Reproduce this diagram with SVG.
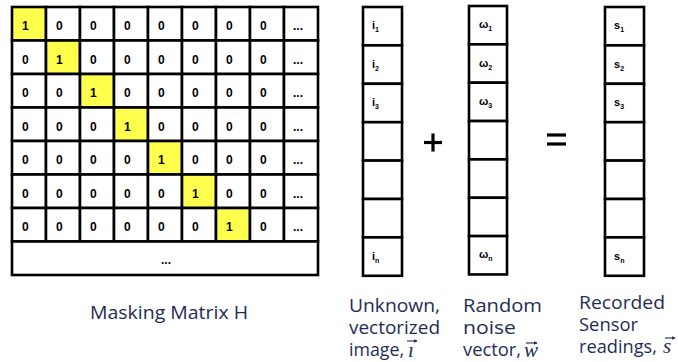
<svg xmlns="http://www.w3.org/2000/svg" width="678" height="362" viewBox="0 0 678 362">
<style>
.c{fill:#fff;stroke:#000;stroke-width:2.6}
.y{fill:#ffff4d;stroke:#000;stroke-width:2.6}
.t{font-family:"Liberation Sans",Arial,sans-serif;font-weight:bold;font-size:12px;fill:#000}
.v{font-size:11px}
.sub{font-size:7px}
.lab{font-family:"Open Sans","Liberation Sans",sans-serif;font-size:17.5px;fill:#1e2d55}
.vec{font-family:"Liberation Serif","DejaVu Serif",serif;font-style:italic;font-size:21px;fill:#1e2d55}
.arr{stroke:#1e2d55;stroke-width:1.1;fill:none}
.op{stroke:#000;stroke-width:3.2}
</style>
<defs>
<marker id="ah" viewBox="0 0 6 6" refX="5" refY="3" markerWidth="4" markerHeight="4" orient="auto" markerUnits="userSpaceOnUse"><path d="M0,0 L6,3 L0,6 z" fill="#1e2d55"/></marker>
</defs>
<rect width="678" height="362" fill="#fff"/>
<g id="matrix">
<g id="row1"><rect class="y" x="12" y="7" width="34" height="33.5"/><rect class="c" x="46" y="7" width="34" height="33.5"/><rect class="c" x="80" y="7" width="34" height="33.5"/><rect class="c" x="114" y="7" width="34" height="33.5"/><rect class="c" x="148" y="7" width="34" height="33.5"/><rect class="c" x="182" y="7" width="34" height="33.5"/><rect class="c" x="216" y="7" width="34" height="33.5"/><rect class="c" x="250" y="7" width="34" height="33.5"/><rect class="c" x="284" y="7" width="34" height="33.5"/>
<text class="t" y="30"><tspan x="22">1</tspan><tspan x="56">0</tspan><tspan x="90">0</tspan><tspan x="124">0</tspan><tspan x="158">0</tspan><tspan x="192">0</tspan><tspan x="226">0</tspan><tspan x="260">0</tspan><tspan x="293">...</tspan></text></g>
<g id="row2"><rect class="c" x="12" y="40.5" width="34" height="33.5"/><rect class="y" x="46" y="40.5" width="34" height="33.5"/><rect class="c" x="80" y="40.5" width="34" height="33.5"/><rect class="c" x="114" y="40.5" width="34" height="33.5"/><rect class="c" x="148" y="40.5" width="34" height="33.5"/><rect class="c" x="182" y="40.5" width="34" height="33.5"/><rect class="c" x="216" y="40.5" width="34" height="33.5"/><rect class="c" x="250" y="40.5" width="34" height="33.5"/><rect class="c" x="284" y="40.5" width="34" height="33.5"/>
<text class="t" y="63.5"><tspan x="22">0</tspan><tspan x="56">1</tspan><tspan x="90">0</tspan><tspan x="124">0</tspan><tspan x="158">0</tspan><tspan x="192">0</tspan><tspan x="226">0</tspan><tspan x="260">0</tspan><tspan x="293">...</tspan></text></g>
<g id="row3"><rect class="c" x="12" y="74" width="34" height="33.5"/><rect class="c" x="46" y="74" width="34" height="33.5"/><rect class="y" x="80" y="74" width="34" height="33.5"/><rect class="c" x="114" y="74" width="34" height="33.5"/><rect class="c" x="148" y="74" width="34" height="33.5"/><rect class="c" x="182" y="74" width="34" height="33.5"/><rect class="c" x="216" y="74" width="34" height="33.5"/><rect class="c" x="250" y="74" width="34" height="33.5"/><rect class="c" x="284" y="74" width="34" height="33.5"/>
<text class="t" y="97"><tspan x="22">0</tspan><tspan x="56">0</tspan><tspan x="90">1</tspan><tspan x="124">0</tspan><tspan x="158">0</tspan><tspan x="192">0</tspan><tspan x="226">0</tspan><tspan x="260">0</tspan><tspan x="293">...</tspan></text></g>
<g id="row4"><rect class="c" x="12" y="107.5" width="34" height="33.5"/><rect class="c" x="46" y="107.5" width="34" height="33.5"/><rect class="c" x="80" y="107.5" width="34" height="33.5"/><rect class="y" x="114" y="107.5" width="34" height="33.5"/><rect class="c" x="148" y="107.5" width="34" height="33.5"/><rect class="c" x="182" y="107.5" width="34" height="33.5"/><rect class="c" x="216" y="107.5" width="34" height="33.5"/><rect class="c" x="250" y="107.5" width="34" height="33.5"/><rect class="c" x="284" y="107.5" width="34" height="33.5"/>
<text class="t" y="130.5"><tspan x="22">0</tspan><tspan x="56">0</tspan><tspan x="90">0</tspan><tspan x="124">1</tspan><tspan x="158">0</tspan><tspan x="192">0</tspan><tspan x="226">0</tspan><tspan x="260">0</tspan><tspan x="293">...</tspan></text></g>
<g id="row5"><rect class="c" x="12" y="141" width="34" height="33.5"/><rect class="c" x="46" y="141" width="34" height="33.5"/><rect class="c" x="80" y="141" width="34" height="33.5"/><rect class="c" x="114" y="141" width="34" height="33.5"/><rect class="y" x="148" y="141" width="34" height="33.5"/><rect class="c" x="182" y="141" width="34" height="33.5"/><rect class="c" x="216" y="141" width="34" height="33.5"/><rect class="c" x="250" y="141" width="34" height="33.5"/><rect class="c" x="284" y="141" width="34" height="33.5"/>
<text class="t" y="164"><tspan x="22">0</tspan><tspan x="56">0</tspan><tspan x="90">0</tspan><tspan x="124">0</tspan><tspan x="158">1</tspan><tspan x="192">0</tspan><tspan x="226">0</tspan><tspan x="260">0</tspan><tspan x="293">...</tspan></text></g>
<g id="row6"><rect class="c" x="12" y="174.5" width="34" height="33.5"/><rect class="c" x="46" y="174.5" width="34" height="33.5"/><rect class="c" x="80" y="174.5" width="34" height="33.5"/><rect class="c" x="114" y="174.5" width="34" height="33.5"/><rect class="c" x="148" y="174.5" width="34" height="33.5"/><rect class="y" x="182" y="174.5" width="34" height="33.5"/><rect class="c" x="216" y="174.5" width="34" height="33.5"/><rect class="c" x="250" y="174.5" width="34" height="33.5"/><rect class="c" x="284" y="174.5" width="34" height="33.5"/>
<text class="t" y="197.5"><tspan x="22">0</tspan><tspan x="56">0</tspan><tspan x="90">0</tspan><tspan x="124">0</tspan><tspan x="158">0</tspan><tspan x="192">1</tspan><tspan x="226">0</tspan><tspan x="260">0</tspan><tspan x="293">...</tspan></text></g>
<g id="row7"><rect class="c" x="12" y="208" width="34" height="33.5"/><rect class="c" x="46" y="208" width="34" height="33.5"/><rect class="c" x="80" y="208" width="34" height="33.5"/><rect class="c" x="114" y="208" width="34" height="33.5"/><rect class="c" x="148" y="208" width="34" height="33.5"/><rect class="c" x="182" y="208" width="34" height="33.5"/><rect class="y" x="216" y="208" width="34" height="33.5"/><rect class="c" x="250" y="208" width="34" height="33.5"/><rect class="c" x="284" y="208" width="34" height="33.5"/>
<text class="t" y="231"><tspan x="22">0</tspan><tspan x="56">0</tspan><tspan x="90">0</tspan><tspan x="124">0</tspan><tspan x="158">0</tspan><tspan x="192">0</tspan><tspan x="226">1</tspan><tspan x="260">0</tspan><tspan x="293">...</tspan></text></g>
<g id="row8"><rect class="c" x="12" y="241.5" width="306" height="33.5"/><text class="t" x="161" y="264">...</text></g>
</g>
<g id="vector-i">
<rect class="c" x="363" y="7" width="39" height="38.4"/><rect class="c" x="363" y="45.4" width="39" height="38.4"/><rect class="c" x="363" y="83.8" width="39" height="38.4"/><rect class="c" x="363" y="122.2" width="39" height="38.4"/><rect class="c" x="363" y="160.6" width="39" height="38.4"/><rect class="c" x="363" y="199" width="39" height="38.4"/><rect class="c" x="363" y="237.4" width="39" height="38.4"/>
<text class="t v" x="372" y="29">i<tspan class="sub" dy="3">1</tspan></text>
<text class="t v" x="372" y="68">i<tspan class="sub" dy="3">2</tspan></text>
<text class="t v" x="372" y="106">i<tspan class="sub" dy="3">3</tspan></text>
<text class="t v" x="372" y="260">i<tspan class="sub" dy="3">n</tspan></text>
</g>
<g id="plus"><line class="op" x1="424" y1="142.5" x2="442" y2="142.5"/><line class="op" x1="433" y1="133.5" x2="433" y2="151.5"/></g>
<g id="vector-w">
<rect class="c" x="469" y="6" width="38" height="38.35"/><rect class="c" x="469" y="44.35" width="38" height="38.35"/><rect class="c" x="469" y="82.7" width="38" height="38.35"/><rect class="c" x="469" y="121.05" width="38" height="38.35"/><rect class="c" x="469" y="159.4" width="38" height="38.35"/><rect class="c" x="469" y="197.75" width="38" height="38.35"/><rect class="c" x="469" y="236.1" width="38" height="38.35"/>
<text class="t v" x="479" y="28">ω<tspan class="sub" dy="3">1</tspan></text>
<text class="t v" x="479" y="67">ω<tspan class="sub" dy="3">2</tspan></text>
<text class="t v" x="479" y="105">ω<tspan class="sub" dy="3">3</tspan></text>
<text class="t v" x="479" y="258">ω<tspan class="sub" dy="3">n</tspan></text>
</g>
<g id="equals"><line class="op" x1="547" y1="135" x2="566" y2="135"/><line class="op" x1="547" y1="144" x2="566" y2="144"/></g>
<g id="vector-s">
<rect class="c" x="605" y="7" width="39" height="38.4"/><rect class="c" x="605" y="45.4" width="39" height="38.4"/><rect class="c" x="605" y="83.8" width="39" height="38.4"/><rect class="c" x="605" y="122.2" width="39" height="38.4"/><rect class="c" x="605" y="160.6" width="39" height="38.4"/><rect class="c" x="605" y="199" width="39" height="38.4"/><rect class="c" x="605" y="237.4" width="39" height="38.4"/>
<text class="t v" x="614" y="29">s<tspan class="sub" dy="3">1</tspan></text>
<text class="t v" x="614" y="68">s<tspan class="sub" dy="3">2</tspan></text>
<text class="t v" x="614" y="106">s<tspan class="sub" dy="3">3</tspan></text>
<text class="t v" x="614" y="260">s<tspan class="sub" dy="3">n</tspan></text>
</g>
<g id="labels">
<text class="lab" x="90" y="319" textLength="158" lengthAdjust="spacingAndGlyphs">Masking Matrix H</text>
<text class="lab" x="349" y="312" textLength="91" lengthAdjust="spacingAndGlyphs">Unknown,</text>
<text class="lab" x="349" y="334" textLength="91" lengthAdjust="spacingAndGlyphs">vectorized</text>
<text class="lab" x="349" y="356" textLength="55" lengthAdjust="spacingAndGlyphs">image,</text>
<text class="vec" x="408" y="357">ı</text>
<path class="arr" d="M407,341 L417,341" marker-end="url(#ah)"/>
<text class="lab" x="463" y="312" textLength="79" lengthAdjust="spacingAndGlyphs">Random</text>
<text class="lab" x="463" y="334" textLength="53" lengthAdjust="spacingAndGlyphs">noise</text>
<text class="lab" x="463" y="356" textLength="58" lengthAdjust="spacingAndGlyphs">vector,</text>
<text class="vec" x="524" y="357">w</text>
<path class="arr" d="M526,343 L537,343" marker-end="url(#ah)"/>
<text class="lab" x="579" y="309" textLength="86" lengthAdjust="spacingAndGlyphs">Recorded</text>
<text class="lab" x="579" y="331" textLength="59" lengthAdjust="spacingAndGlyphs">Sensor</text>
<text class="lab" x="579" y="353" textLength="78" lengthAdjust="spacingAndGlyphs">readings,</text>
<text class="vec" x="663" y="353">s</text>
<path class="arr" d="M665,338 L675,338" marker-end="url(#ah)"/>
</g>
</svg>
